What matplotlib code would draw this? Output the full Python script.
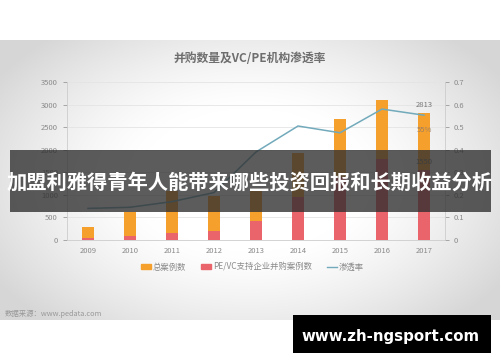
import matplotlib.pyplot as plt
import numpy as np
from matplotlib.patches import Rectangle, Patch
from matplotlib.lines import Line2D

plt.rcParams['font.family'] = ['Noto Sans CJK SC', 'DejaVu Sans']

# data
years = ['2009', '2010', '2011', '2012', '2013', '2014', '2015', '2016', '2017']
total_cases = [285, 615, 1075, 980, 1120, 1930, 2680, 3095, 2813]
pevc_cases = [40, 80, 165, 190, 430, 950, 1400, 1790, 1550]
penetration = [0.14, 0.145, 0.17, 0.21, 0.39, 0.505, 0.475, 0.58, 0.553]

title = '并购数量及VC/PE机构渗透率'
legend_labels = ['总案例数', 'PE/VC支持企业并购案例数', '渗透率']
source = '数据来源：www.pedata.com'
banner = '加盟利雅得青年人能带来哪些投资回报和长期收益分析'
site = 'www.zh-ngsport.com'

c_total = '#F5A02C'
c_pevc = '#E9646B'
c_line = '#72AABB'
c_text = '#8a8a8a'

fig = plt.figure(figsize=(5, 3.62), dpi=100)
fig.patch.set_facecolor('white')

# grey vignette behind the screenshot-like chart area
bg = fig.add_axes([0, 1 - 320 / 362, 1, 280 / 362], zorder=0)
gx, gy = np.meshgrid(np.linspace(-1, 1, 300), np.linspace(-1, 1, 200))
r = np.sqrt((gx / 1.0) ** 2 + (gy / 1.15) ** 2)
shade = 1 - 0.16 * np.clip((r - 0.45) / 0.75, 0, 1) ** 1.3
bg.imshow(np.dstack([shade] * 3), aspect='auto', extent=[0, 1, 0, 1])
bg.set_axis_off()

ax = fig.add_axes([0.134, 1 - 240 / 362, 0.756, 158 / 362], zorder=1)
ax.patch.set_alpha(0)
x = np.arange(len(years))
ax.bar(x, total_cases, width=0.28, color=c_total, zorder=2)
ax.bar(x, pevc_cases, width=0.28, color=c_pevc, zorder=3)
ax.set_ylim(0, 3500)
ax.set_yticks(np.arange(0, 3501, 500))
ax.set_xlim(-0.5, len(years) - 0.5)
ax.set_xticks(x)
ax.set_xticklabels(years)
ax.yaxis.grid(True, color='#e4e4e4', linewidth=0.6, zorder=0)
ax.set_axisbelow(True)
for s in ['top', 'right']:
    ax.spines[s].set_visible(False)
ax.spines['left'].set_color('#cccccc')
ax.spines['bottom'].set_color('#cccccc')
ax.spines['left'].set_linewidth(0.6)
ax.spines['bottom'].set_linewidth(0.6)
ax.tick_params(axis='both', labelsize=5.5, colors=c_text, length=3, width=0.5)
ax.tick_params(axis='x', length=0, pad=5)

ax2 = ax.twinx()
ax2.plot(x, penetration, color=c_line, linewidth=1.1, zorder=4)
ax2.set_ylim(0, 0.7)
ax2.set_yticks(np.arange(0, 0.71, 0.1))
ax2.set_yticklabels(['0', '0.1', '0.2', '0.3', '0.4', '0.5', '0.6', '0.7'])
for s in ['top', 'left', 'bottom']:
    ax2.spines[s].set_visible(False)
ax2.spines['right'].set_color('#cccccc')
ax2.spines['right'].set_linewidth(0.6)
ax2.tick_params(axis='y', labelsize=5.5, colors=c_text, length=3, width=0.5)

# value labels on the last year
ax.annotate(f'{total_cases[-1]}', (x[-1], total_cases[-1]), xytext=(0, 3),
            textcoords='offset points', ha='center', va='bottom', fontsize=5.5, color='#777777')
ax2.annotate(f'{penetration[-1]:.0%}', (x[-1], penetration[-1]), xytext=(0, -8),
             textcoords='offset points', ha='center', va='top', fontsize=5.5, color='#a08060')
ax.annotate(f'{pevc_cases[-1]}', (x[-1], pevc_cases[-1]), xytext=(0, 3),
            textcoords='offset points', ha='center', va='bottom', fontsize=5.5, color='#777777')

fig.text(0.5, 1 - 58 / 362, title, ha='center', va='center', fontsize=8.5,
         fontweight='bold', color='#6e6e6e')

handles = [Patch(color=c_total), Patch(color=c_pevc), Line2D([0], [0], color=c_line, lw=1)]
fig.legend(handles, legend_labels, loc='center', bbox_to_anchor=(0.505, 1 - 267 / 362),
           ncol=3, frameon=False, fontsize=6, labelcolor=c_text, handlelength=1.2,
           handleheight=0.5, handletextpad=0.2, columnspacing=1.8)

fig.text(0.01, 1 - 314 / 362, source, ha='left', va='center', fontsize=5.3, color='#999999')

# dark banner across the middle
fig.patches.append(Rectangle((10 / 500, 1 - 212 / 362), 481 / 500, 62 / 362,
                             transform=fig.transFigure, facecolor='#2e2e2e', alpha=0.78,
                             edgecolor='none', zorder=10))
fig.text(0.5, 1 - 182 / 362, banner, ha='center', va='center', fontsize=14.6,
         fontweight='bold', color='white', zorder=11)

# watermark box
fig.patches.append(Rectangle((293 / 500, 1 - 353 / 362), 198 / 500, 38 / 362,
                             transform=fig.transFigure, facecolor='black',
                             edgecolor='none', zorder=10))
fig.text(391 / 500, 1 - 336 / 362, site, ha='center', va='center', fontsize=10.8,
         fontweight='bold', color='white', family=['DejaVu Sans'], zorder=11)

fig.savefig('out.png', dpi=100)
